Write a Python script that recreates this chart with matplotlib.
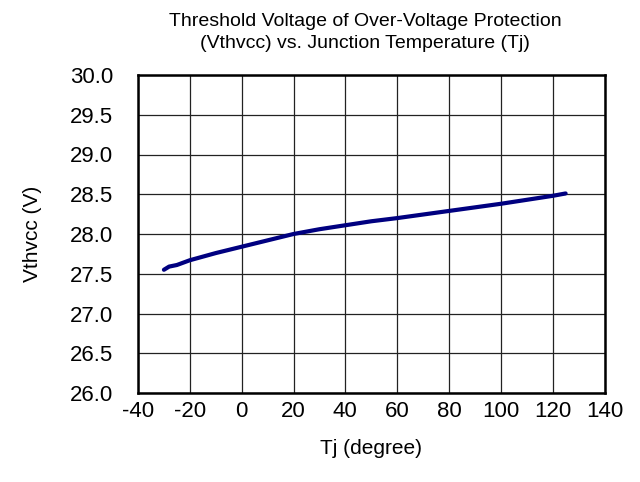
import matplotlib
matplotlib.use("Agg")
import matplotlib.pyplot as plt

plt.rcParams['font.family'] = ['Liberation Sans', 'DejaVu Sans']

tj = [-30, -28, -25, -20, -10, 0, 10, 20, 30, 40, 50, 60, 70, 80, 90, 100, 110, 120, 125]
vth = [27.55, 27.59, 27.61, 27.67, 27.76, 27.84, 27.92, 28.00, 28.06, 28.11, 28.16, 28.20, 28.245, 28.29, 28.335, 28.38, 28.43, 28.48, 28.51]

xticks = [-40, -20, 0, 20, 40, 60, 80, 100, 120, 140]
yticks = [26.0, 26.5, 27.0, 27.5, 28.0, 28.5, 29.0, 29.5, 30.0]

fig = plt.figure(figsize=(6.4, 4.82), dpi=100)
ax = fig.add_axes([138/640, 1-393/482, (604.5-138)/640, (393-75)/482])

ax.plot(tj, vth, color='#000080', linewidth=3.0, solid_capstyle='round')

ax.set_xlim(-40, 140)
ax.set_ylim(26.0, 30.0)
ax.set_xticks(xticks)
ax.set_yticks(yticks)
ax.set_xticklabels([str(v) for v in xticks])
ax.set_yticklabels([f"{v:.1f}" for v in yticks])
ax.tick_params(length=0, labelsize=16)
ax.tick_params(axis='y', pad=18)
ax.tick_params(axis='x', pad=6)
ax.grid(True, color='#222222', linewidth=0.9)
ax.set_axisbelow(True)
for s in ax.spines.values():
    s.set_linewidth(1.8)
    s.set_color('black')

ax.set_xlabel('Tj (degree)', fontsize=15, labelpad=12)
ax.set_ylabel('Vthvcc (V)', fontsize=15, labelpad=20)

fig.text(365/640, 1-21/482, 'Threshold Voltage of Over-Voltage Protection', ha='center', va='center', fontsize=14)
fig.text(365/640, 1-44/482, '(Vthvcc) vs. Junction Temperature (Tj)', ha='center', va='center', fontsize=14)

fig.savefig('out.png', dpi=100)
